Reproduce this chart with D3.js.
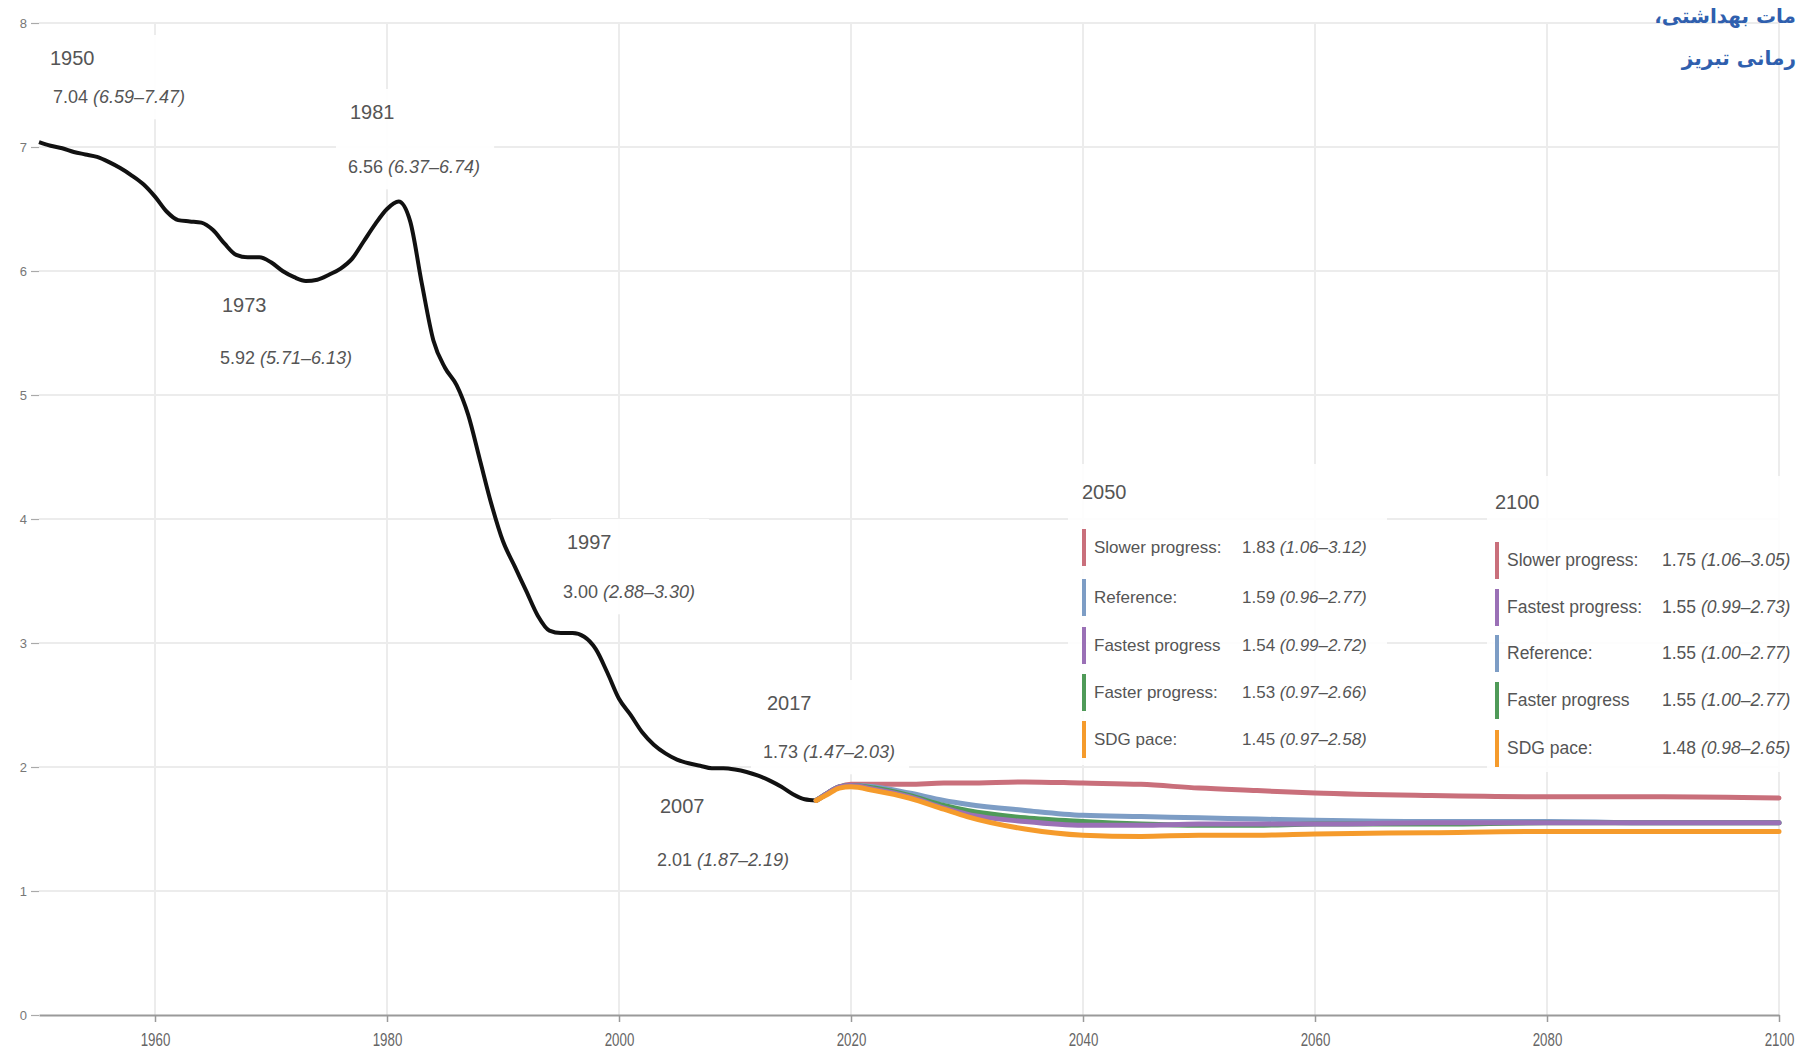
<!DOCTYPE html>
<html><head><meta charset="utf-8">
<script src="https://cdn.jsdelivr.net/npm/d3@7"></script>
<style>
html,body{margin:0;padding:0;background:#fff;overflow:hidden;}
.wm{position:absolute;font-family:"DejaVu Sans",sans-serif;font-weight:bold;color:#2f5fae;white-space:nowrap;direction:rtl;font-size:20px;line-height:1;}
</style></head><body>
<svg id="chart" width="1797" height="1049" style="position:absolute;left:0;top:0"></svg>
<script>
// ---------- data ----------
const pastYears = d3.range(1950, 2018);
const pastValues = [7.04,7.01,6.99,6.96,6.94,6.92,6.88,6.83,6.77,6.70,
  6.60,6.48,6.41,6.40,6.39,6.33,6.22,6.13,6.11,6.11,
  6.07,6.00,5.95,5.92,5.93,5.97,6.02,6.10,6.24,6.38,
  6.50,6.56,6.40,5.90,5.44,5.22,5.08,4.84,4.48,4.12,
  3.82,3.62,3.42,3.22,3.10,3.08,3.08,3.05,2.95,2.76,
  2.55,2.42,2.28,2.18,2.11,2.06,2.03,2.01,1.99,1.99,
  1.98,1.96,1.93,1.89,1.84,1.78,1.74,1.73];

const forecastYears = [2017,2018,2019,2020,2022,2025,2028,2030,2035,2040,2045,2050,2055,2060,2070,2080,2090,2100];
const slowerValues   = [1.73,1.79,1.84,1.86,1.86,1.86,1.87,1.87,1.88,1.87,1.86,1.83,1.81,1.79,1.77,1.76,1.76,1.75];
const referenceValues= [1.73,1.79,1.84,1.85,1.84,1.79,1.73,1.70,1.65,1.61,1.60,1.59,1.58,1.57,1.56,1.56,1.55,1.55];
const fasterValues   = [1.73,1.79,1.84,1.85,1.83,1.77,1.69,1.65,1.59,1.56,1.54,1.53,1.53,1.54,1.54,1.55,1.55,1.55];
const fastestValues  = [1.73,1.79,1.84,1.85,1.82,1.76,1.67,1.62,1.56,1.53,1.53,1.54,1.54,1.54,1.55,1.55,1.55,1.55];
const sdgValues      = [1.73,1.78,1.83,1.84,1.81,1.75,1.66,1.60,1.50,1.45,1.44,1.45,1.45,1.46,1.47,1.48,1.48,1.48];

const scenarioNames = ["Slower progress","Reference","Faster progress","Fastest progress","SDG pace"];
const scenarioColors = ["#c96f7b","#7d9dc5","#4f9a58","#9a70b6","#f59b2c"];

const xTickValues = [1960,1980,2000,2020,2040,2060,2080,2100];
const yTickValues = [0,1,2,3,4,5,6,7,8];

const annYears  = ["1950","1981","1973","1997","2017","2007"];
const annValues = ["7.04","6.56","5.92","3.00","1.73","2.01"];
const annRanges = ["(6.59–7.47)","(6.37–6.74)","(5.71–6.13)","(2.88–3.30)","(1.47–2.03)","(1.87–2.19)"];

const legend2050Names  = ["Slower progress:","Reference:","Fastest progress","Faster progress:","SDG pace:"];
const legend2050Values = ["1.83","1.59","1.54","1.53","1.45"];
const legend2050Ranges = ["(1.06–3.12)","(0.96–2.77)","(0.99–2.72)","(0.97–2.66)","(0.97–2.58)"];
const legend2050Colors = ["#c96f7b","#7d9dc5","#9a70b6","#4f9a58","#f59b2c"];

const legend2100Names  = ["Slower progress:","Fastest progress:","Reference:","Faster progress","SDG pace:"];
const legend2100Values = ["1.75","1.55","1.55","1.55","1.48"];
const legend2100Ranges = ["(1.06–3.05)","(0.99–2.73)","(1.00–2.77)","(1.00–2.77)","(0.98–2.65)"];
const legend2100Colors = ["#c96f7b","#9a70b6","#7d9dc5","#4f9a58","#f59b2c"];

const watermarkLines = ["مات بهداشتی،", "رمانی تبریز"];

// ---------- layout ----------
const svg = d3.select("#chart");
const x = d3.scaleLinear().domain([1950, 2100]).range([39, 1779]);
const y = d3.scaleLinear().domain([0, 8]).range([1015, 23]);
const FONT = "'Liberation Sans', Arial, sans-serif";

// gridlines
const grid = svg.append("g");
grid.selectAll("line.h").data(yTickValues.filter(d => d > 0)).join("line")
  .attr("x1", x(1950)).attr("x2", x(2100)).attr("y1", d => y(d)).attr("y2", d => y(d))
  .attr("stroke", "#ececec").attr("stroke-width", 2);
grid.selectAll("line.v").data(xTickValues).join("line")
  .attr("x1", d => x(d)).attr("x2", d => x(d)).attr("y1", y(8)).attr("y2", y(0))
  .attr("stroke", "#ececec").attr("stroke-width", 2);

// x axis
const xAxis = svg.append("g").attr("transform", `translate(0,${y(0)})`)
  .call(d3.axisBottom(x).tickValues(xTickValues).tickFormat(d3.format("d")).tickSize(7).tickSizeOuter(0));
xAxis.select(".domain").attr("stroke", "#9a9a9a").attr("stroke-width", 2);
xAxis.selectAll(".tick line").attr("stroke", "#9a9a9a").attr("stroke-width", 1.5);
xAxis.selectAll(".tick text").attr("font-family", FONT).attr("font-size", 19).attr("fill", "#666")
  .attr("y", 0).attr("dy", 0)
  .attr("transform", "translate(0,31) scale(0.7,1)");

// y axis
const yAxis = svg.append("g").attr("transform", `translate(${x(1950)},0)`)
  .call(d3.axisLeft(y).tickValues(yTickValues).tickSize(8).tickPadding(4));
yAxis.select(".domain").remove();
yAxis.selectAll(".tick line").attr("stroke", "#aaa").attr("stroke-width", 1.2);
yAxis.selectAll(".tick text").attr("font-family", FONT).attr("font-size", 13).attr("fill", "#777");

// annotation boxes + text (boxes under the lines)
const annPos = [[50,58,53,97],[350,112,348,167],[222,305,220,358],[567,542,563,592],[767,703,763,752],[660,806,657,860]];
const boxLayer = svg.append("g");
const lineLayer = svg.append("g");
const annText = svg.append("g");
annYears.forEach((yr, i) => {
  const p = annPos[i];
  const g = annText.append("g");
  g.append("text").attr("x", p[0]).attr("y", p[1]).attr("dy", "0.35em")
    .attr("font-family", FONT).attr("font-size", 20).attr("fill", "#555").text(yr);
  const t = g.append("text").attr("x", p[2]).attr("y", p[3]).attr("dy", "0.35em")
    .attr("font-family", FONT).attr("font-size", 18).attr("fill", "#555");
  t.append("tspan").text(annValues[i] + " ");
  t.append("tspan").attr("font-style", "italic").text(annRanges[i]);
  const bb = g.node().getBBox();
  boxLayer.append("rect").attr("x", bb.x - 12).attr("y", bb.y - 12)
    .attr("width", bb.width + 26).attr("height", bb.height + 24)
    .attr("fill", "#fff").attr("opacity", 0.92);
});

// lines
const pastLine = d3.line().x((d, i) => x(pastYears[i])).y(d => y(d)).curve(d3.curveMonotoneX);
lineLayer.append("path").datum(pastValues).attr("d", pastLine)
  .attr("fill", "none").attr("stroke", "#111").attr("stroke-width", 4).attr("stroke-linejoin", "round");

const fLine = d3.line().x((d, i) => x(forecastYears[i])).y(d => y(d)).curve(d3.curveMonotoneX);
const scenarioSeries = [slowerValues, referenceValues, fasterValues, fastestValues, sdgValues];
scenarioSeries.forEach((vals, i) => {
  lineLayer.append("path").datum(vals).attr("d", fLine)
    .attr("fill", "none").attr("stroke", scenarioColors[i]).attr("stroke-width", 5)
    .attr("stroke-linecap", "round").attr("stroke-linejoin", "round");
});

// legend boxes
function legend(title, box, tx, ty, rows, names, vals, ranges, colors, valX, fs) {
  const g = svg.append("g");
  g.append("rect").attr("x", box[0]).attr("y", box[1]).attr("width", box[2]).attr("height", box[3])
    .attr("fill", "#fff").attr("opacity", 0.9);
  g.append("text").attr("x", tx).attr("y", ty).attr("dy", "0.35em")
    .attr("font-family", FONT).attr("font-size", 20).attr("fill", "#555").text(title);
  names.forEach((n, i) => {
    const ry = rows[i];
    g.append("rect").attr("x", tx).attr("y", ry - 18).attr("width", 4).attr("height", 37).attr("fill", colors[i]);
    g.append("text").attr("x", tx + 12).attr("y", ry).attr("dy", "0.35em")
      .attr("font-family", FONT).attr("font-size", fs).attr("fill", "#555").text(n);
    const t = g.append("text").attr("x", valX).attr("y", ry).attr("dy", "0.35em")
      .attr("font-family", FONT).attr("font-size", fs).attr("fill", "#555");
    t.append("tspan").text(vals[i] + " ");
    t.append("tspan").attr("font-style", "italic").text(ranges[i]);
  });
}
legend("2050", [1068, 464, 319, 301], 1082, 492, [547,597,645,692,739],
  legend2050Names, legend2050Values, legend2050Ranges, legend2050Colors, 1242, 17);
legend("2100", [1487, 476, 320, 296], 1495, 502, [560,607,653,700,748],
  legend2100Names, legend2100Values, legend2100Ranges, legend2100Colors, 1662, 17.5);

// watermark text at top right
const wmTop = [6, 48];
watermarkLines.forEach((s, i) => {
  const d = document.createElement("div");
  d.className = "wm";
  d.style.right = "1px";
  d.style.top = wmTop[i] + "px";
  d.textContent = s;
  document.body.appendChild(d);
});
</script>
</body></html>
